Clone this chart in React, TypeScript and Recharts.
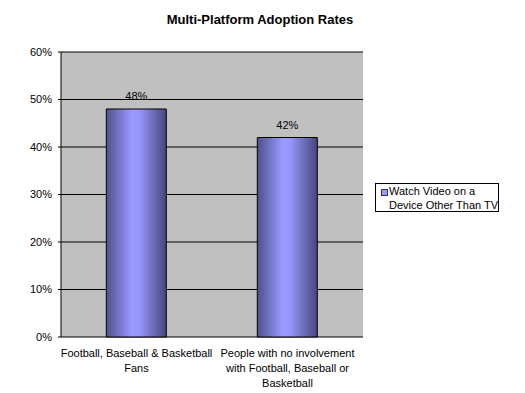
import { BarChart, Bar, XAxis, YAxis, CartesianGrid, Legend, LabelList } from "recharts";

const categories = [
  "Football, Baseball & Basketball Fans",
  "People with no involvement with Football, Baseball or Basketball",
];
// how each category label breaks into lines under the axis
const categoryLines = [
  ["Football, Baseball & Basketball", "Fans"],
  ["People with no involvement", "with Football, Baseball or", "Basketball"],
];
const watchVideo = [0.48, 0.42];
const yTicks = [0, 0.1, 0.2, 0.3, 0.4, 0.5, 0.6];
const seriesName = "Watch Video on a Device Other Than TV";
const legendLines = ["Watch Video on a", "Device Other Than TV"];

const data = categories.map((c, i) => ({ name: c, value: watchVideo[i] }));

const FONT = "Arial, 'Liberation Sans', sans-serif";

const pct = (v: number) => `${Math.round(v * 100)}%`;

const CategoryTick = ({ x, y, index }: any) => {
  const lines = categoryLines[index] || [];
  return (
    <text x={x} y={y} textAnchor="middle" fontSize={11} fontFamily={FONT} fill="#000">
      {lines.map((l, i) => (
        <tspan key={i} x={x} dy={i === 0 ? 20 : 15}>
          {l}
        </tspan>
      ))}
    </text>
  );
};

const LegendBox = ({ payload }: any) => (
  <div
    style={{
      border: "1px solid #000",
      background: "#fff",
      fontFamily: FONT,
      fontSize: 11,
      lineHeight: "14px",
      padding: "0",
      boxSizing: "border-box",
      width: 124,
      height: 29,
      position: "relative",
      whiteSpace: "nowrap",
      textAlign: "left",
    }}
  >
    {(payload || []).slice(0, 1).map((p: any) => (
      <div key={p.value}>
        <span
          style={{
            position: "absolute",
            left: 5,
            top: 5,
            width: 5,
            height: 5,
            background: "#9999ff",
            border: "1px solid #333366",
          }}
        />
        <div style={{ paddingLeft: 13 }}>{legendLines[0]}</div>
        <div style={{ paddingLeft: 13 }}>{legendLines[1]}</div>
      </div>
    ))}
  </div>
);

export default function App() {
  return (
    <div style={{ position: "absolute", left: 0, top: 0, width: 525, height: 393, background: "#fff" }}>
      <div
        style={{
          position: "absolute",
          left: 0,
          width: 520,
          top: 11,
          textAlign: "center",
          fontFamily: FONT,
          fontWeight: "bold",
          fontSize: 13,
          lineHeight: "17px",
        }}
      >
        Multi-Platform Adoption Rates
      </div>
      <BarChart
        width={525}
        height={393}
        data={data}
        margin={{ top: 52, right: 162, left: 0, bottom: 0 }}
        barCategoryGap="30%"
      >
        <defs>
          <linearGradient id="barGrad" x1="0" y1="0" x2="1" y2="0">
            <stop offset="0%" stopColor="#50508c" />
            <stop offset="42%" stopColor="#9999ff" />
            <stop offset="55%" stopColor="#9696fa" />
            <stop offset="100%" stopColor="#46467a" />
          </linearGradient>
        </defs>
        <CartesianGrid fill="#c0c0c0" vertical={false} stroke="#000" strokeOpacity={1} />
        <XAxis
          xAxisId="edges"
          type="number"
          domain={[0, 2]}
          ticks={[0, 1, 2]}
          allowDataOverflow
          height={0}
          tick={false}
          tickSize={4}
          tickLine={{ stroke: "#000" }}
          axisLine={{ stroke: "#000" }}
        />
        <XAxis
          dataKey="name"
          height={56}
          axisLine={false}
          tickLine={false}
          tickSize={0}
          tickMargin={0}
          interval={0}
          tick={<CategoryTick />}
        />
        <XAxis xAxisId="top" orientation="top" height={0} tick={false} tickLine={false} axisLine={{ stroke: "#808080" }} />
        <YAxis
          width={61}
          domain={[0, 0.6]}
          ticks={yTicks}
          tickFormatter={pct}
          tick={{ fill: "#000", fontSize: 11, fontFamily: FONT }}
          tickSize={3}
          tickMargin={6}
          tickLine={{ stroke: "#000" }}
          axisLine={{ stroke: "#000" }}
        />
        <YAxis yAxisId="right" orientation="right" width={0} tick={false} tickLine={false} axisLine={{ stroke: "#808080" }} />
        <Legend
          layout="vertical"
          verticalAlign="middle"
          align="center"
          content={<LegendBox />}
          wrapperStyle={{ left: 375, top: 183, width: 124 }}
        />
        <Bar dataKey="value" name={seriesName} fill="url(#barGrad)" stroke="#000" strokeWidth={1} isAnimationActive={false}>
          <LabelList
            dataKey="value"
            position="top"
            offset={9}
            formatter={(v: any) => pct(Number(v))}
            style={{ fill: "#000", fontSize: 11, fontFamily: FONT }}
          />
        </Bar>
      </BarChart>
    </div>
  );
}
